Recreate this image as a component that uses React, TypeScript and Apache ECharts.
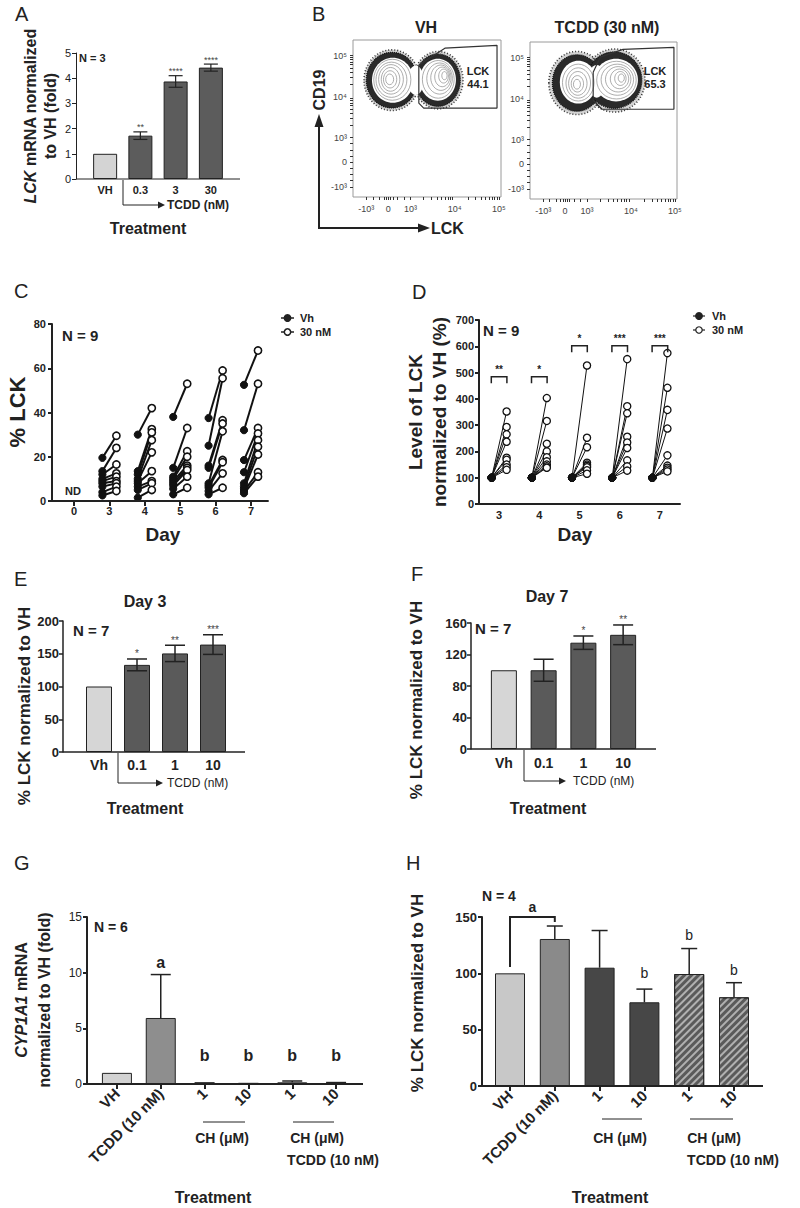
import React, { useEffect, useRef } from 'react';
import * as echarts from 'echarts';

const FONT = "'Liberation Sans', Arial, Helvetica, sans-serif";
const NARROW = "'Liberation Sans Narrow', 'Liberation Sans', Arial, sans-serif";
const INK = '#222';

// ---------- Panel A ----------
const aCategories = ['VH', '0.3', '3', '30'];
const aMeans = [1.0, 1.72, 3.87, 4.42];
const aErrors = [0, 0.15, 0.23, 0.14];
const aStars = ['', '**', '****', '****'];

// ---------- Panel B (flow cytometry, biexponential display units) ----------
const bXTickValues = [-0.5, 0, 0.5, 1.5, 2.5];
const bXTickLabels = ['-10³', '0', '10³', '10⁴', '10⁵'];
const bYTickValues = [-0.6, 0, 0.6, 1.6, 2.6];
const bYTickLabels = ['-10³', '0', '10³', '10⁴', '10⁵'];
const bVhGate = [[0.69, 2.37], [1.28, 2.78], [2.46, 2.85], [2.46, 1.32], [0.8, 1.32], [0.69, 1.44], [0.69, 2.37]];
const bTcddGate = [[0.64, 2.24], [0.8, 2.61], [1.32, 2.8], [2.48, 2.85], [2.48, 1.34], [0.84, 1.34], [0.64, 1.56], [0.64, 2.24]];
// [cx, cy, rx, ry, kind]  kind 3 = sparse events, 0 = dense events, 1 = blank core, 2 = contour line
const bVhContours = [
  [0.08, 2.0, 0.63, 0.74, 3], [1.13, 2.0, 0.56, 0.7, 3],
  [0.08, 2.0, 0.58, 0.68, 0], [1.12, 2.0, 0.51, 0.64, 0],
  [0.1, 2.0, 0.47, 0.55, 1], [1.12, 2.01, 0.41, 0.51, 1], [0.62, 2.0, 0.18, 0.36, 1],
  [0.09, 2.01, 0.42, 0.5, 2], [0.07, 2.01, 0.35, 0.43, 2], [0.06, 2.02, 0.28, 0.36, 2],
  [0.05, 2.02, 0.21, 0.29, 2], [0.04, 2.02, 0.15, 0.21, 2], [0.03, 2.02, 0.09, 0.13, 2],
  [1.13, 2.02, 0.36, 0.46, 2], [1.16, 2.04, 0.29, 0.38, 2], [1.19, 2.06, 0.23, 0.31, 2],
  [1.22, 2.08, 0.17, 0.24, 2], [1.25, 2.1, 0.11, 0.17, 2], [1.27, 2.11, 0.06, 0.1, 2],
];
const bTcddContours = [
  [0.27, 1.98, 0.64, 0.77, 3], [1.13, 2.04, 0.69, 0.77, 3],
  [0.27, 1.98, 0.56, 0.69, 0], [1.12, 2.05, 0.63, 0.69, 0],
  [0.3, 2.0, 0.42, 0.52, 1], [1.16, 2.05, 0.5, 0.52, 1], [0.72, 2.02, 0.2, 0.4, 1],
  [0.3, 1.99, 0.36, 0.45, 2], [0.3, 1.98, 0.28, 0.37, 2], [0.29, 1.97, 0.21, 0.29, 2],
  [0.28, 1.96, 0.14, 0.2, 2], [0.27, 1.95, 0.08, 0.12, 2],
  [1.17, 2.05, 0.45, 0.46, 2], [1.19, 2.06, 0.37, 0.38, 2], [1.21, 2.07, 0.29, 0.31, 2],
  [1.24, 2.08, 0.21, 0.24, 2], [1.26, 2.09, 0.13, 0.17, 2], [1.28, 2.1, 0.07, 0.1, 2],
];
const bVhGatePercent = '44.1';
const bTcddGatePercent = '65.3';

// ---------- Panel C ----------
const cDays = ['0', '3', '4', '5', '6', '7'];
const cVh = [
  [19.5, 13.5, 12, 10, 9, 8, 6.5, 4, 2.5],
  [30, 13.5, 12, 10, 9, 8, 6.5, 5, 1.5],
  [38, 15, 11, 10, 9, 8, 7, 5.5, 3],
  [37.5, 25, 16, 15, 8, 7, 6, 4.5, 3],
  [52.5, 32, 18.5, 13, 8, 6.5, 5.5, 4.5, 3.5],
];
const cTcdd = [
  [29.5, 24, 16.5, 12.5, 11, 9, 8, 6.5, 4.5],
  [42, 32.5, 31, 27.5, 22, 13.5, 9, 8, 5],
  [53, 33, 22.5, 20, 16, 15, 14, 11, 6],
  [59, 55.5, 36.5, 35, 31.5, 18.5, 17.5, 12.5, 6],
  [68, 53, 33, 30.5, 27.5, 24.5, 21, 13, 11],
];

// ---------- Panel D ----------
const dDays = ['3', '4', '5', '6', '7'];
const dVh = [
  [100, 100, 100, 100, 100, 100, 100, 100, 100],
  [100, 100, 100, 100, 100, 100, 100, 100, 100],
  [100, 100, 100, 100, 100, 100, 100, 100, 100],
  [100, 100, 100, 100, 100, 100, 100, 100, 100],
  [100, 100, 100, 100, 100, 100, 100, 100, 100],
];
const dTcdd = [
  [352, 293, 265, 237, 176, 168, 150, 140, 130],
  [403, 316, 229, 200, 178, 162, 150, 143, 138],
  [527, 252, 216, 157, 150, 145, 140, 128, 115],
  [551, 372, 345, 256, 234, 213, 166, 143, 127],
  [574, 442, 358, 287, 185, 146, 138, 131, 124],
];
const dBracketY = [484, 484, 602, 602, 602];
const dStars = ['**', '*', '*', '***', '***'];

// ---------- Panel E ----------
const eCategories = ['Vh', '0.1', '1', '10'];
const eMeans = [100, 133, 150.5, 164];
const eErrors = [0, 9, 12.5, 15];
const eStars = ['', '*', '**', '***'];

// ---------- Panel F ----------
const fCategories = ['Vh', '0.1', '1', '10'];
const fMeans = [100, 100, 135, 145];
const fErrors = [0, 14, 8.5, 12.5];
const fStars = ['', '', '*', '**'];

// ---------- Panel G ----------
const gCategories = ['VH', 'TCDD (10 nM)', '1', '10', '1', '10'];
const gMeans = [1.0, 5.93, 0.08, 0.03, 0.15, 0.08];
const gErrors = [0, 3.9, 0.02, 0.01, 0.12, 0.05];
const gLetters = ['', 'a', 'b', 'b', 'b', 'b'];
const gLetterY = [0, 10.9, 2.6, 2.6, 2.6, 2.6];

// ---------- Panel H ----------
const hCategories = ['VH', 'TCDD (10 nM)', '1', '10', '1', '10'];
const hMeans = [100, 130.5, 105, 74.3, 99.4, 78.7];
const hErrors = [0, 11.5, 33, 11.7, 22.6, 13];
const hLetters = ['', '', '', 'b', 'b', 'b'];
const hLetterY = [0, 0, 0, 100, 134, 103];
const hBracket = [[0, 1, 105.6, 145.6, 150]];
const hBracketLabel = 'a';

// ---------- styles ----------
const aColors = ['#d4d4d4', '#5c5c5c', '#5c5c5c', '#5c5c5c'];
const eColors = ['#d6d6d6', '#5a5a5a', '#5a5a5a', '#5a5a5a'];
const gColors = ['#d2d2d2', '#8e8e8e', '#444', '#444', '#555', '#555'];
const hColors = ['#c8c8c8', '#8a8a8a', '#474747', '#474747', '#5a5a5a', '#5a5a5a'];

const LOG_STEPS = [2, 3, 4, 5, 6, 7, 8, 9].map((k) => Math.log10(k));
const bXTicks = [-0.5, -0.35, -0.2, -0.1, -0.05, 0, 0.05, 0.1, 0.2, 0.35, 0.5]
  .concat(LOG_STEPS.map((l) => 0.5 + l), LOG_STEPS.map((l) => 1.5 + l), [2.5]);
const bYTicks = [-0.6, -0.45, -0.3, -0.15, 0, 0.15, 0.3, 0.45, 0.6]
  .concat(LOG_STEPS.map((l) => 0.6 + l), LOG_STEPS.map((l) => 1.6 + l), [2.6]);

const lab = (size: number, weight: any = 'bold', family = FONT, color = INK) => ({
  fontSize: size, fontWeight: weight, fontFamily: family, color,
});

function valueAxis(grid: number, min: number, max: number, interval: number, offset: number, lw: number, label: any, margin: number) {
  return {
    type: 'value', gridIndex: grid, min, max, interval, offset,
    axisLine: { show: true, onZero: false, lineStyle: { color: INK, width: lw } },
    axisTick: { show: true, length: 4, lineStyle: { color: INK, width: lw } },
    splitLine: { show: false },
    axisLabel: { ...label, margin },
  };
}

function catAxis(grid: number, data: string[], label: any, margin: number, opts: any = {}) {
  return {
    type: 'category', gridIndex: grid, data,
    axisLine: { show: !!opts.line, onZero: false, lineStyle: { color: INK, width: opts.lw || 1.5 } },
    axisTick: { show: !!opts.ticks, alignWithLabel: true, length: 5, lineStyle: { color: INK, width: opts.lw || 1.5 } },
    splitLine: { show: false },
    axisLabel: { ...label, margin, interval: 0, rotate: opts.rotate || 0 },
  };
}

function barSeries(idx: number, values: any[], colors: string[], width: number, extra: any = {}) {
  return {
    type: 'bar', xAxisIndex: idx, yAxisIndex: idx, barWidth: width, barGap: '-100%',
    data: values.map((v, i) => (v === '-' ? '-' : { value: v, itemStyle: { color: colors[i] } })),
    itemStyle: { borderColor: INK, borderWidth: 1 },
    ...extra,
  };
}

function errSeries(idx: number, means: number[], errs: number[], both: boolean, capW: number, lw: number) {
  const data = means.map((m, i) => [i, both ? m - errs[i] : m, m + errs[i]]).filter((d, i) => errs[i] > 0);
  return {
    type: 'custom', xAxisIndex: idx, yAxisIndex: idx, silent: true, z: 5,
    encode: { x: 0, y: [1, 2] },
    data,
    renderItem: (params: any, api: any) => {
      const top = api.coord([api.value(0), api.value(2)]);
      const bot = api.coord([api.value(0), api.value(1)]);
      const st = { stroke: INK, lineWidth: lw };
      const ch: any[] = [
        { type: 'line', shape: { x1: top[0], y1: top[1], x2: bot[0], y2: bot[1] }, style: st },
        { type: 'line', shape: { x1: top[0] - capW / 2, y1: top[1], x2: top[0] + capW / 2, y2: top[1] }, style: st },
      ];
      if (both) ch.push({ type: 'line', shape: { x1: bot[0] - capW / 2, y1: bot[1], x2: bot[0] + capW / 2, y2: bot[1] }, style: st });
      return { type: 'group', children: ch };
    },
  };
}

function textSeries(idx: number, points: number[][], texts: string[], size: number, weight: any, color: string, vAlign: string, dy: number) {
  return {
    type: 'custom', xAxisIndex: idx, yAxisIndex: idx, silent: true, z: 6,
    encode: { x: 0, y: 1 },
    data: points,
    renderItem: (params: any, api: any) => {
      const p = api.coord([api.value(0), api.value(1)]);
      return {
        type: 'text', x: p[0], y: p[1] + dy,
        style: { text: texts[params.dataIndex], fontSize: size, fontWeight: weight, fontFamily: FONT, fill: color, align: 'center', verticalAlign: vAlign },
      };
    },
  };
}

function pairSeries(idx: number, vh: number[][], tc: number[][], first: number, dx: number, r: number, lw: number, clw: number) {
  const data: number[][] = [];
  vh.forEach((row, d) => row.forEach((v, k) => data.push([d + first, v, tc[d][k]])));
  return {
    type: 'custom', xAxisIndex: idx, yAxisIndex: idx, silent: true, z: 4,
    encode: { x: 0, y: [1, 2] },
    data,
    renderItem: (params: any, api: any) => {
      const a = api.coord([api.value(0), api.value(1)]);
      const b = api.coord([api.value(0), api.value(2)]);
      const x1 = a[0] - dx;
      const x2 = b[0] + dx;
      return {
        type: 'group', children: [
          { type: 'line', shape: { x1, y1: a[1], x2, y2: b[1] }, style: { stroke: '#111', lineWidth: lw } },
          { type: 'circle', shape: { cx: x1, cy: a[1], r }, style: { fill: '#111', stroke: '#111', lineWidth: 1 } },
          { type: 'circle', shape: { cx: x2, cy: b[1], r }, style: { fill: '#fff', stroke: '#111', lineWidth: clw } },
        ],
      };
    },
  };
}

function contourSeries(idx: number, data: number[][]) {
  return {
    type: 'custom', xAxisIndex: idx, yAxisIndex: idx, silent: true, z: 2,
    encode: { x: 0, y: 1 },
    data,
    renderItem: (params: any, api: any) => {
      const c = api.coord([api.value(0), api.value(1)]);
      const s = api.size([api.value(2), api.value(3)]);
      const kind = api.value(4);
      const shape = { cx: c[0], cy: c[1], rx: s[0], ry: s[1] };
      if (kind === 3) return { type: 'ellipse', shape, style: { fill: 'rgba(60,60,60,0.22)', stroke: '#333', lineWidth: 1.6, lineDash: [1, 2] } };
      if (kind === 0) return { type: 'ellipse', shape, style: { fill: '#2a2a2a', stroke: '#111', lineWidth: 1.2, lineDash: [1, 1] } };
      if (kind === 1) return { type: 'ellipse', shape, style: { fill: '#fff', stroke: 'none' } };
      return { type: 'ellipse', shape, style: { fill: 'none', stroke: '#8a8a8a', lineWidth: 0.7 } };
    },
  };
}

function bracketSeries(idx: number, ys: number[], stars: string[], dx: number, leg: number) {
  return {
    type: 'custom', xAxisIndex: idx, yAxisIndex: idx, silent: true, z: 5,
    encode: { x: 0, y: 1 },
    data: ys.map((y, i) => [i, y]),
    renderItem: (params: any, api: any) => {
      const p = api.coord([api.value(0), api.value(1)]);
      return {
        type: 'group', children: [
          { type: 'polyline', shape: { points: [[p[0] - dx, p[1] + leg], [p[0] - dx, p[1]], [p[0] + dx, p[1]], [p[0] + dx, p[1] + leg]] }, style: { stroke: INK, lineWidth: 1.5, fill: 'none' } },
          { type: 'text', x: p[0], y: p[1] - 2, style: { text: stars[params.dataIndex], fontSize: 10, fontWeight: 'bold', fontFamily: FONT, fill: INK, align: 'center', verticalAlign: 'bottom' } },
        ],
      };
    },
  };
}

function flowAxes(grid: number) {
  const labelOf = (vals: number[], labels: string[]) => (v: number) => {
    const i = vals.findIndex((t) => Math.abs(t - v) < 1e-6);
    return i >= 0 ? labels[i] : '';
  };
  const x = {
    type: 'value', gridIndex: grid, min: -0.8, max: 2.55,
    axisLine: { show: false, onZero: false }, splitLine: { show: false },
    axisTick: { show: true, customValues: bXTicks, length: 3, lineStyle: { color: '#333', width: 1 } },
    axisLabel: { customValues: bXTickValues, formatter: labelOf(bXTickValues, bXTickLabels), ...lab(9, 'normal', FONT, '#444'), margin: 7 },
  };
  const y = {
    type: 'value', gridIndex: grid, min: -0.85, max: 2.98,
    axisLine: { show: false, onZero: false }, splitLine: { show: false },
    axisTick: { show: true, customValues: bYTicks, length: 3, lineStyle: { color: '#333', width: 1 } },
    axisLabel: { customValues: bYTickValues, formatter: labelOf(bYTickValues, bYTickLabels), ...lab(9, 'normal', FONT, '#444'), margin: 6 },
  };
  return { x, y };
}

// ---------- graphic helpers ----------
const gText = (text: string, x: number, y: number, size: number, o: any = {}) => ({
  type: 'text', x, y, rotation: o.rot || 0, silent: true, z: 100,
  style: {
    text, fontSize: size, fontWeight: o.w || 'bold', fontFamily: o.f || FONT, fontStyle: o.i ? 'italic' : 'normal',
    fill: o.c || INK, align: o.a || 'center', verticalAlign: o.v || 'middle', rich: o.rich, lineHeight: o.lh,
  },
});
const gLine = (x1: number, y1: number, x2: number, y2: number, w = 1.5) => ({
  type: 'line', silent: true, z: 100, shape: { x1, y1, x2, y2 }, style: { stroke: INK, lineWidth: w },
});
const gPoly = (points: number[][], w = 1.2) => ({
  type: 'polyline', silent: true, z: 100, shape: { points }, style: { stroke: INK, lineWidth: w, fill: 'none' },
});
const gTri = (points: number[][]) => ({ type: 'polygon', silent: true, z: 100, shape: { points }, style: { fill: INK } });
const gDot = (cx: number, cy: number, r: number, filled: boolean, lw = 1.5) => ({
  type: 'circle', silent: true, z: 101, shape: { cx, cy, r }, style: { fill: filled ? INK : '#fff', stroke: INK, lineWidth: lw },
});
const richTok = (size: number, italic: boolean, lh: number) => ({
  fontSize: size, fontWeight: 'bold', fontFamily: FONT, fontStyle: italic ? 'italic' : 'normal', fill: INK, color: INK, lineHeight: lh,
});
const PANEL = (t: string, x: number, y: number) => gText(t, x, y, 20, { w: 'normal', a: 'left' });
const ROT = Math.PI / 2;

function buildOption() {
  const grids = [
    { left: 87.5, top: 53, width: 141, height: 126 },
    { left: 353, top: 40, width: 148, height: 157, show: true, borderColor: '#9a9a9a', borderWidth: 1 },
    { left: 530, top: 42, width: 147, height: 157, show: true, borderColor: '#9a9a9a', borderWidth: 1 },
    { left: 56.3, top: 324, width: 212.4, height: 177 },
    { left: 479, top: 320, width: 201, height: 184 },
    { left: 80, top: 621, width: 152, height: 131 },
    { left: 484, top: 623, width: 159, height: 126 },
    { left: 95, top: 917, width: 263, height: 167 },
    { left: 487.6, top: 917, width: 268.8, height: 169 },
  ].map((g) => ({ ...g, containLabel: false, outerBoundsMode: 'none' }));

  const f1 = flowAxes(1);
  const f2 = flowAxes(2);

  const xAxis = [
    catAxis(0, aCategories, lab(11, 'bold'), 5),
    f1.x, f2.x,
    catAxis(3, cDays, lab(11, 'bold', NARROW), 4, { ticks: true, lw: 2 }),
    catAxis(4, dDays, lab(11, 'bold', NARROW), 5, { line: true, lw: 2 }),
    catAxis(5, eCategories, lab(14, 'bold'), 6),
    catAxis(6, fCategories, lab(14, 'bold'), 7),
    catAxis(7, gCategories, lab(15, 'bold'), 7, { ticks: true, lw: 2, rotate: 45 }),
    catAxis(8, hCategories, lab(15, 'bold'), 7, { ticks: true, lw: 2, rotate: 45 }),
  ];
  const yAxis = [
    valueAxis(0, 0, 5, 1, 11.5, 1, lab(11, 'normal'), 5),
    f1.y, f2.y,
    valueAxis(3, 0, 80, 20, 4.3, 2, lab(11, 'bold', NARROW), 6),
    valueAxis(4, 0, 700, 100, 0, 2, lab(11, 'bold', NARROW), 5),
    valueAxis(5, 0, 200, 50, 17, 1.5, lab(13, 'bold'), 4),
    valueAxis(6, 0, 160, 40, 13, 1.5, lab(13, 'bold'), 4),
    valueAxis(7, 0, 15, 5, 8, 2, lab(12, 'normal'), 5),
    valueAxis(8, 0, 150, 50, 5.6, 2, lab(13, 'bold'), 5),
  ];

  const series: any[] = [
    // A
    barSeries(0, aMeans, aColors, 24),
    errSeries(0, aMeans, aErrors, true, 14, 1.2),
    textSeries(0, aMeans.map((m, i) => [i, m + aErrors[i]]), aStars, 9, 'normal', '#444', 'bottom', 0),
    // B
    contourSeries(1, bVhContours),
    { type: 'line', xAxisIndex: 1, yAxisIndex: 1, data: bVhGate, showSymbol: false, silent: true, z: 3, lineStyle: { color: '#333', width: 1.2 } },
    contourSeries(2, bTcddContours),
    { type: 'line', xAxisIndex: 2, yAxisIndex: 2, data: bTcddGate, showSymbol: false, silent: true, z: 3, lineStyle: { color: '#333', width: 1.2 } },
    // C
    pairSeries(3, cVh, cTcdd, 1, 7, 3.6, 2, 1.6),
    // D
    pairSeries(4, dVh, dTcdd, 0, 7.5, 3.6, 1, 1.3),
    bracketSeries(4, dBracketY, dStars, 7.8, 6.5),
    // E
    barSeries(5, eMeans, eColors, 26),
    errSeries(5, eMeans, eErrors, true, 20, 1.5),
    textSeries(5, eMeans.map((m, i) => [i, m + eErrors[i]]), eStars, 10, 'normal', '#444', 'bottom', 0),
    // F
    barSeries(6, fMeans, eColors, 26),
    errSeries(6, fMeans, fErrors, true, 20, 1.5),
    textSeries(6, fMeans.map((m, i) => [i, m + fErrors[i]]), fStars, 10, 'normal', '#444', 'bottom', 0),
    // G
    barSeries(7, gMeans, gColors, 30),
    errSeries(7, gMeans, gErrors, false, 20, 1.5),
    textSeries(7, gLetterY.map((y, i) => [i, y]), gLetters, 16, 'bold', INK, 'middle', 0),
    // H
    barSeries(8, hMeans.map((v, i) => (i < 4 ? v : '-')), hColors, 30),
    barSeries(8, hMeans.map((v, i) => (i >= 4 ? v : '-')), hColors, 30, {
      itemStyle: {
        borderColor: INK, borderWidth: 1,
        decal: { symbol: 'rect', symbolSize: 1, dashArrayX: [1, 0], dashArrayY: [2, 3], rotation: -Math.PI / 4, color: 'rgba(185,185,185,0.9)' },
      },
    }),
    errSeries(8, hMeans, hErrors, false, 16, 1.5),
    textSeries(8, hLetterY.map((y, i) => [i, y]), hLetters, 14, 'normal', INK, 'middle', 0),
    {
      type: 'custom', xAxisIndex: 8, yAxisIndex: 8, silent: true, z: 6,
      encode: { x: 0, y: 4 },
      data: hBracket,
      renderItem: (params: any, api: any) => {
        const p0 = api.coord([api.value(0), api.value(4)]);
        const p1 = api.coord([api.value(1), api.value(4)]);
        const l = api.coord([api.value(0), api.value(2)]);
        const r = api.coord([api.value(1), api.value(3)]);
        return {
          type: 'group', children: [
            { type: 'polyline', shape: { points: [[p0[0], l[1]], [p0[0], p0[1]], [p1[0], p1[1]], [p1[0], r[1]]] }, style: { stroke: INK, lineWidth: 2, fill: 'none' } },
            { type: 'text', x: (p0[0] + p1[0]) / 2, y: p0[1] - 3, style: { text: hBracketLabel, fontSize: 14, fontWeight: 'bold', fontFamily: FONT, fill: INK, align: 'center', verticalAlign: 'bottom' } },
          ],
        };
      },
    },
  ];

  const elements: any[] = [
    // ---- A ----
    PANEL('A', 15, 14),
    gText('N = 3', 79, 58, 11, { a: 'left' }),
    gLine(76, 179, 240, 179, 1),
    gText('{i|LCK}{n| mRNA normalized}\n{n|to VH (fold)}', 40, 116, 16, { rot: ROT, rich: { i: richTok(16, true, 20), n: richTok(16, false, 20) } }),
    gPoly([[123, 180], [123, 205], [159, 205]], 1),
    gTri([[165, 205], [158, 201.5], [158, 208.5]]),
    gText('TCDD (nM)', 167, 205, 12, { a: 'left' }),
    gText('Treatment', 148, 228, 16),
    // ---- B ----
    PANEL('B', 312, 14),
    gText('VH', 426, 27, 16),
    gText('TCDD (30 nM)', 607, 27, 16),
    gText('LCK\n' + bVhGatePercent, 478, 77, 11, { lh: 13 }),
    gText('LCK\n' + bTcddGatePercent, 655, 77, 11, { lh: 13 }),
    gPoly([[319, 126], [319, 228], [419, 228]], 2),
    gTri([[319, 114], [314.5, 127], [323.5, 127]]),
    gTri([[430, 228], [418, 223.5], [418, 232.5]]),
    gText('CD19', 319, 90, 16, { rot: ROT }),
    gText('LCK', 431, 228, 16, { a: 'left' }),
    // ---- C ----
    PANEL('C', 14, 291),
    gText('N = 9', 62, 335, 15, { a: 'left' }),
    gText('ND', 73, 491, 11, { f: NARROW }),
    gLine(52, 501, 268.7, 501, 2),
    gText('% LCK', 17, 412, 22, { rot: ROT }),
    gText('Day', 163, 534, 19),
    gLine(281, 318, 294, 318, 1.5), gDot(287.5, 318, 3.2, true),
    gText('Vh', 300, 318, 11, { a: 'left', f: NARROW }),
    gLine(281, 332, 294, 332, 1.5), gDot(287.5, 332, 3.2, false),
    gText('30 nM', 300, 332, 11, { a: 'left', f: NARROW }),
    // ---- D ----
    PANEL('D', 412, 292),
    gText('N = 9', 483, 330, 15, { a: 'left' }),
    gText('{n|Level of LCK}\n{n|normalized to VH (%)}', 427, 412, 19, { rot: ROT, rich: { n: richTok(19, false, 24) } }),
    gText('Day', 575, 534, 19),
    gLine(693, 316, 705, 316, 1.2), gDot(699, 316, 3.2, true),
    gText('Vh', 712, 316, 11, { a: 'left', f: NARROW }),
    gLine(693, 330, 705, 330, 1.2), gDot(699, 330, 3.2, false, 1.2),
    gText('30 nM', 712, 330, 11, { a: 'left', f: NARROW }),
    // ---- E ----
    PANEL('E', 14, 579),
    gText('Day 3', 145, 601, 16),
    gText('N = 7', 73, 630, 15, { a: 'left' }),
    gLine(63, 752, 245, 752, 1.5),
    gPoly([[118, 753], [118, 783], [157, 783]], 1),
    gTri([[163, 783], [156, 779.5], [156, 786.5]]),
    gText('TCDD (nM)', 167, 783, 12, { a: 'left', w: 'normal' }),
    gText('% LCK normalized to VH', 24, 706, 17, { rot: ROT }),
    gText('Treatment', 145, 808, 16),
    // ---- F ----
    PANEL('F', 411, 574),
    gText('Day 7', 547, 596, 16),
    gText('N = 7', 475, 628, 15, { a: 'left' }),
    gLine(471, 749, 656, 749, 1.5),
    gPoly([[524, 750], [524, 781], [560, 781]], 1),
    gTri([[566, 781], [559, 777.5], [559, 784.5]]),
    gText('TCDD (nM)', 573, 781, 12, { a: 'left', w: 'normal' }),
    gText('% LCK normalized to VH', 416, 700, 17, { rot: ROT }),
    gText('Treatment', 548, 808, 16),
    // ---- G ----
    PANEL('G', 14, 863),
    gText('N = 6', 94, 927, 14, { a: 'left' }),
    gLine(87, 1084, 363, 1084, 2),
    gText('{i|CYP1A1}{n| mRNA}\n{n|normalized to VH (fold)}', 33, 1000, 16, { rot: ROT, rich: { i: richTok(16, true, 23), n: richTok(16, false, 23) } }),
    gLine(203, 1122, 245, 1122, 1),
    gLine(293, 1122, 334, 1122, 1),
    gText('CH (μM)', 222, 1138, 14),
    gText('CH (μM)', 317, 1138, 14),
    gText('TCDD (10 nM)', 333, 1160, 14),
    gText('Treatment', 213, 1197, 16),
    // ---- H ----
    PANEL('H', 406, 863),
    gText('N = 4', 482, 896, 14, { a: 'left' }),
    gLine(482, 1086, 763, 1086, 2),
    gText('% LCK normalized to VH', 417, 993, 17, { rot: ROT }),
    gLine(602, 1119, 642, 1119, 1),
    gLine(690, 1119, 733, 1119, 1),
    gText('CH (μM)', 620, 1138, 14),
    gText('CH (μM)', 714, 1138, 14),
    gText('TCDD (10 nM)', 733, 1160, 14),
    gText('Treatment', 610, 1197, 16),
  ];

  return {
    animation: false,
    backgroundColor: '#fff',
    textStyle: { fontFamily: FONT },
    grid: grids,
    xAxis,
    yAxis,
    series,
    graphic: { elements },
  };
}

export default function App() {
  const ref = useRef<HTMLDivElement>(null);
  useEffect(() => {
    if (!ref.current) return;
    const chart = echarts.init(ref.current, null, { renderer: 'svg' });
    chart.setOption(buildOption() as any);
    return () => chart.dispose();
  }, []);
  return <div ref={ref} style={{ position: 'absolute', left: 0, top: 0, width: 800, height: 1208, background: '#fff' }} />;
}
